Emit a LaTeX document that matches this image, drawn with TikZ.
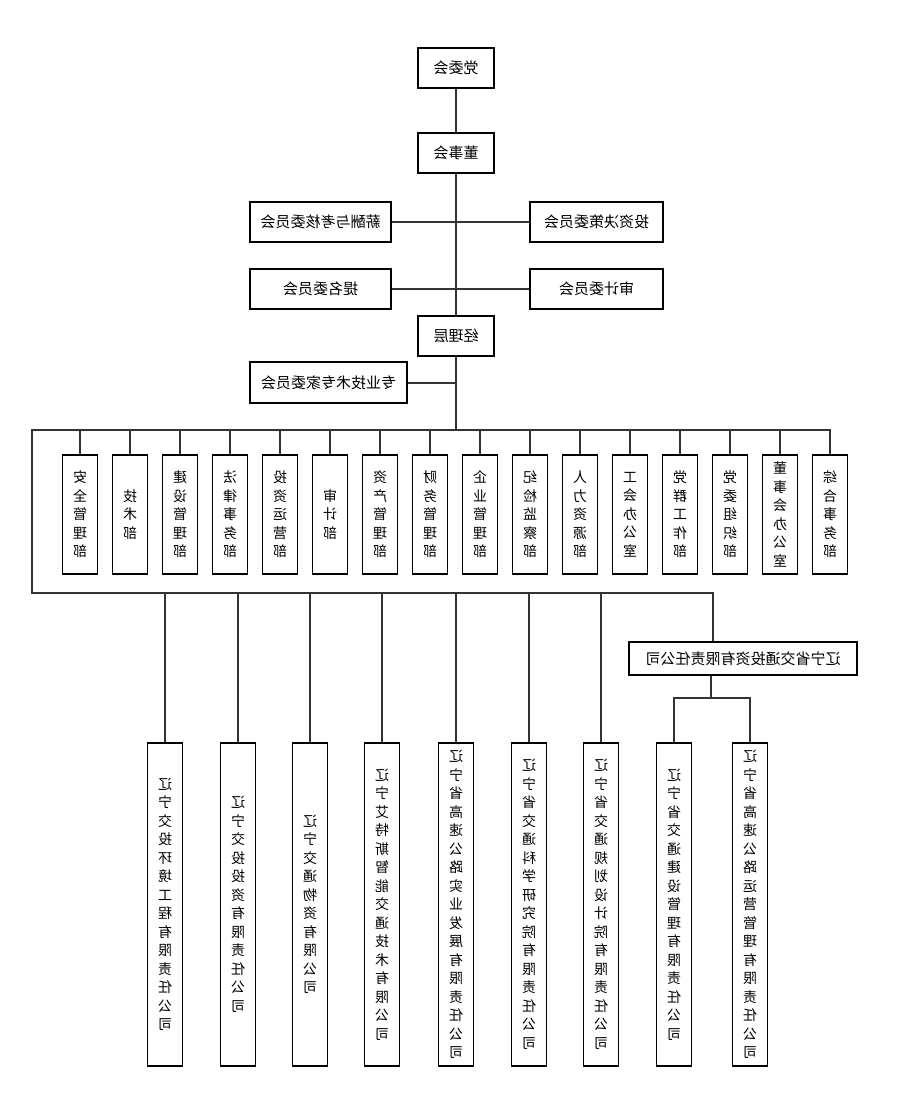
\documentclass[tikz,border=0pt]{standalone}
\usepackage{fontspec}
\newfontfamily\cjk{Noto Sans CJK SC}
\usetikzlibrary{positioning}

\tikzset{
  org/.style={draw=black, line width=1.1pt, fill=white, inner sep=0pt, xscale=-1},
  hbox/.style={org, minimum height=40pt, font=\cjk\fontsize{15}{18}\selectfont},
  vbox/.style={org, minimum width=35pt, text width=14pt, align=center,
               font=\cjk\fontsize{14}{18.5}\selectfont},
  dept/.style={vbox, minimum height=119pt},
  firm/.style={vbox, minimum height=323pt},
  link/.style={draw=black!80, line width=2pt}
}

\begin{document}
\begin{tikzpicture}[x=1pt, y=-1pt]
  \useasboundingbox (0,0) rectangle (906,1098);
  % top of the tree
  \node[hbox, minimum width=76pt]  (dwh) at (456,68)    {党委会};
  \node[hbox, minimum width=76pt]  (dsh) at (456,153)   {董事会};
  \node[hbox, minimum width=141pt] (xc)  at (320.5,222) {薪酬与考核委员会};
  \node[hbox, minimum width=133pt] (tz)  at (596.5,222) {投资决策委员会};
  \node[hbox, minimum width=141pt] (tm)  at (320.5,289) {提名委员会};
  \node[hbox, minimum width=133pt] (sj)  at (596.5,289) {审计委员会};
  \node[hbox, minimum width=76pt]  (jl)  at (456,336)   {经理层};
  \node[hbox, minimum width=157pt, minimum height=41pt] (zj) at (328.5,382.5) {专业技术专家委员会};
  \node[hbox, minimum width=228pt, minimum height=33pt] (gs) at (743,658.5) {辽宁省交通投资有限责任公司};

  % functional departments
  \foreach \name [count=\i] in {安\\全\\管\\理\\部, 技\\术\\部, 建\\设\\管\\理\\部,
      法\\律\\事\\务\\部, 投\\资\\运\\营\\部, 审\\计\\部, 资\\产\\管\\理\\部,
      财\\务\\管\\理\\部, 企\\业\\管\\理\\部, 纪\\检\\监\\察\\部, 人\\力\\资\\源\\部,
      工\\会\\办\\公\\室, 党\\群\\工\\作\\部, 党\\委\\组\\织\\部, 董\\事\\会\\办\\公\\室,
      综\\合\\事\\务\\部}
    \node[dept] (d\i) at ({30+50*\i},514.5) {\name};

  % companies
  \foreach \x/\name [count=\i] in {
      165/辽\\宁\\交\\投\\环\\境\\工\\程\\有\\限\\责\\任\\公\\司,
      238/辽\\宁\\交\\投\\投\\资\\有\\限\\责\\任\\公\\司,
      310/辽\\宁\\交\\通\\物\\资\\有\\限\\公\\司,
      382/辽\\宁\\艾\\特\\斯\\智\\能\\交\\通\\技\\术\\有\\限\\公\\司,
      456/辽\\宁\\省\\高\\速\\公\\路\\实\\业\\发\\展\\有\\限\\责\\任\\公\\司,
      529/辽\\宁\\省\\交\\通\\科\\学\\研\\究\\院\\有\\限\\责\\任\\公\\司,
      601/辽\\宁\\省\\交\\通\\规\\划\\设\\计\\院\\有\\限\\责\\任\\公\\司,
      674/辽\\宁\\省\\交\\通\\建\\设\\管\\理\\有\\限\\责\\任\\公\\司,
      750/辽\\宁\\省\\高\\速\\公\\路\\运\\营\\管\\理\\有\\限\\责\\任\\公\\司}
    \node[firm] (c\i) at (\x,904.5) {\name};

  \coordinate (bl) at (32,429.5);
  \coordinate (b2) at (713,593);
  \coordinate (fk) at (711,698);

  % connectors
  \draw[link] (dwh) -- (dsh);
  \draw[link] (dsh) -- (jl);
  \draw[link] (xc) -- (tz);
  \draw[link] (tm) -- (sj);
  \draw[link] (jl) -- (jl |- bl);
  \draw[link] (zj) -- (zj -| jl);
  \draw[link] (d16.north) |- (bl) |- (b2) -- (b2 |- gs.north);
  \foreach \i in {1,...,15}
    \draw[link] (d\i.north) -- (d\i.north |- bl);
  \foreach \i in {1,...,7}
    \draw[link] (c\i.north) -- (c\i.north |- b2);
  \draw[link] (fk |- gs.south) -- (fk);
  \draw[link] (c8.north) |- (fk) -| (c9.north);
\end{tikzpicture}
\end{document}
